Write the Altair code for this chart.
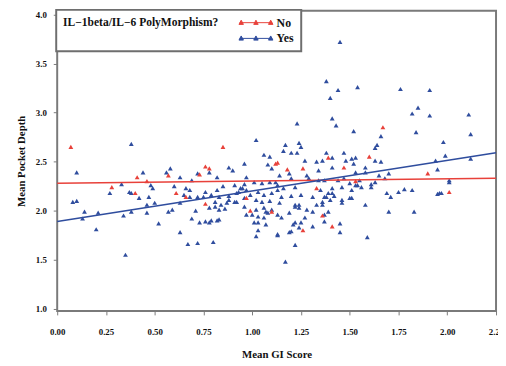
import altair as alt
import pandas as pd

# ---- data ----
no_x = [0.07, 0.28, 0.40, 0.41, 0.46, 0.57, 0.61, 0.66, 0.73, 0.76, 0.78, 0.76, 0.85, 0.97, 0.99,
        1.10, 1.12, 1.13, 1.18, 1.26, 1.26, 1.33, 1.36, 1.39, 1.41, 1.47, 1.53, 1.60, 1.67, 1.90, 2.01]
no_y = [2.65, 2.24, 2.18, 2.34, 2.30, 2.36, 2.18, 2.14, 2.37, 2.45, 2.43, 2.07, 2.65, 2.13, 2.00,
        1.99, 2.48, 2.49, 2.42, 2.43, 1.80, 2.23, 1.95, 2.54, 1.84, 2.44, 2.30, 2.55, 2.85, 2.38, 2.19]

yes_pts = [
    # upper scatter
    (1.45, 3.72), (1.38, 3.32), (1.44, 3.23), (1.54, 3.26), (1.40, 3.15), (1.76, 3.24), (1.91, 3.23),
    (1.85, 3.05), (1.82, 2.99), (1.91, 2.97), (2.11, 2.98), (2.12, 2.78), (1.98, 2.70), (1.99, 2.56),
    (1.94, 2.51), (2.12, 2.53), (1.95, 2.42), (1.96, 2.18), (1.95, 2.17), (2.01, 2.31),
    (1.23, 2.89), (1.41, 2.94), (1.43, 2.87), (1.52, 2.81), (1.66, 2.76), (1.84, 2.80), (1.64, 2.67),
    (1.63, 2.64), (1.02, 2.72), (1.17, 2.67), (1.24, 2.69), (1.25, 2.65), (1.47, 2.59), (1.20, 2.59),
    (1.23, 2.59), (1.16, 2.61), (1.06, 2.57), (1.09, 2.55), (0.38, 2.68),
    # 2.3 - 2.6
    (0.10, 2.39), (0.44, 2.39), (0.56, 2.39), (0.58, 2.43), (0.63, 2.34), (0.72, 2.38), (0.78, 2.39),
    (0.88, 2.44), (0.90, 2.41), (0.96, 2.48), (0.97, 2.34), (0.82, 2.34), (0.69, 2.31), (1.08, 2.47),
    (1.10, 2.43), (1.14, 2.36), (1.27, 2.51), (1.33, 2.50), (1.34, 2.41), (1.36, 2.51), (1.38, 2.59),
    (1.41, 2.54), (1.41, 2.44), (1.48, 2.51), (1.51, 2.53), (1.19, 2.38), (1.20, 2.33), (1.28, 2.36),
    (1.29, 2.33), (1.53, 2.54), (1.52, 2.48), (1.58, 2.44), (1.63, 2.51), (1.66, 2.50), (1.53, 2.39),
    (1.58, 2.39), (1.65, 2.36), (1.70, 2.38), (1.68, 2.33), (1.34, 2.31), (1.37, 2.31), (1.44, 2.31),
    (1.47, 2.33), (1.55, 2.31),
    # 2.1 - 2.3
    (0.27, 2.18), (0.33, 2.27), (0.38, 2.18), (0.47, 2.14), (0.48, 2.26), (0.49, 2.23), (0.60, 2.25),
    (0.66, 2.23), (0.68, 2.21), (0.65, 2.16), (0.68, 2.14), (0.72, 2.14), (0.75, 2.14), (0.83, 2.14),
    (0.85, 2.25), (0.88, 2.15), (0.88, 2.11), (0.91, 2.26), (0.96, 2.27), (1.01, 2.29), (1.05, 2.28),
    (1.09, 2.29), (1.12, 2.29), (0.76, 2.19), (0.79, 2.16), (0.82, 2.21), (0.93, 2.19), (0.94, 2.23),
    (0.97, 2.21), (0.99, 2.16), (1.03, 2.19), (1.06, 2.16), (1.10, 2.18), (1.13, 2.21), (0.91, 2.09),
    (0.92, 2.18), (0.95, 2.23), (0.42, 2.13), (0.37, 2.19), (1.13, 2.26), (1.16, 2.23), (1.22, 2.24),
    (1.35, 2.21), (1.41, 2.23), (1.46, 2.24), (1.50, 2.28), (1.15, 2.14), (1.20, 2.15), (1.25, 2.16),
    (1.31, 2.14), (1.39, 2.18), (1.38, 2.14), (1.42, 2.15), (1.46, 2.11), (1.37, 2.14), (1.40, 2.11),
    (1.41, 2.18), (1.50, 2.13), (1.54, 2.26), (1.61, 2.27), (1.63, 2.29), (1.53, 2.26), (1.56, 2.24),
    (1.51, 2.21), (1.51, 2.13), (1.61, 2.24), (1.69, 2.18), (1.71, 2.14), (1.75, 2.19), (1.78, 2.22),
    (1.82, 2.21), (1.97, 2.18), (2.01, 2.29), (0.08, 2.09), (0.10, 2.10),
    # 2.0 - 2.1
    (0.46, 2.06), (0.50, 2.08), (0.63, 2.08), (0.78, 2.03), (0.81, 2.04), (0.84, 2.06), (0.86, 2.02),
    (0.81, 2.09), (0.87, 2.08), (0.92, 2.09), (0.96, 2.13), (1.02, 2.11), (1.05, 2.09), (1.09, 2.10),
    (1.14, 2.08), (0.83, 2.01), (0.96, 2.04), (1.02, 2.01), (1.06, 2.03), (1.10, 2.01), (1.22, 2.04),
    (1.24, 2.06), (1.28, 2.01), (1.22, 2.06), (1.24, 2.03), (1.33, 2.06), (1.36, 2.09), (1.36, 2.06),
    (1.46, 2.08), (1.58, 2.06), (0.59, 2.01), (0.71, 2.00),
    # 1.9 - 2.0
    (0.14, 1.99), (0.21, 1.98), (0.38, 1.99), (0.46, 1.98), (0.57, 1.99), (0.34, 1.95), (0.97, 1.96),
    (1.03, 1.94), (1.08, 1.98), (1.13, 1.96), (1.06, 1.93), (1.07, 1.99), (1.00, 1.96), (1.19, 1.98),
    (1.31, 1.99), (1.37, 1.96), (1.39, 1.99), (1.15, 1.93), (1.27, 1.93), (1.70, 1.99), (1.83, 1.99),
    (0.13, 1.92), (0.69, 1.92),
    # below 1.9
    (0.20, 1.81), (0.35, 1.55), (0.52, 1.87), (0.63, 1.78), (0.67, 1.66), (0.72, 1.67), (0.73, 1.88),
    (0.76, 1.89), (0.79, 1.90), (0.82, 1.90), (0.80, 1.68), (0.78, 1.88), (0.83, 1.91), (1.01, 1.88),
    (1.07, 1.86), (1.03, 1.80), (1.13, 1.76), (1.02, 1.74), (1.13, 1.75), (1.19, 1.78), (1.22, 1.65),
    (1.17, 1.48), (1.24, 1.83), (1.25, 1.88), (1.22, 1.88), (1.03, 1.88), (1.37, 1.89), (1.45, 1.87),
    (1.45, 1.78), (1.59, 1.73), (1.21, 1.86), (1.31, 1.84), (1.20, 1.79),
]
yes_x = [p[0] for p in yes_pts]
yes_y = [p[1] for p in yes_pts]

fit_x = [0.0, 2.25]
no_fit = [2.28, 2.33]
yes_fit = [1.89, 2.59]

groups = ["No", "Yes"]
colors = ["#e8413a", "#2f4d9e"]
x_ticks = [0.0, 0.25, 0.5, 0.75, 1.0, 1.25, 1.5, 1.75, 2.0, 2.25]
y_ticks = [1.0, 1.5, 2.0, 2.5, 3.0, 3.5, 4.0]

pts = pd.DataFrame({
    "gi": yes_x + no_x,
    "pd": yes_y + no_y,
    "grp": ["Yes"] * len(yes_x) + ["No"] * len(no_x),
})
fits = pd.DataFrame({
    "gi": fit_x + fit_x,
    "pd": no_fit + yes_fit,
    "grp": ["No"] * 2 + ["Yes"] * 2,
})

FONT = "Liberation Serif"
xs = alt.Scale(domain=[0, 2.25], nice=False, zero=False)
ys = alt.Scale(domain=[0.977, 4.037], nice=False, zero=False)
cs = alt.Scale(domain=groups, range=colors)

legend_path = ("M-3.3,0L3.3,0"
               "M-3,-0.5L-2.55,0.35L-3.45,0.35Z"
               "M0,-0.5L0.45,0.35L-0.45,0.35Z"
               "M3,-0.5L3.45,0.35L2.55,0.35Z")

x_enc = alt.X("gi:Q", scale=xs, title="Mean GI Score",
              axis=alt.Axis(values=x_ticks, format=".2f", labelFlush=False,
                            labelPadding=13, titlePadding=12))
y_enc = alt.Y("pd:Q", scale=ys, title="Mean Pocket Depth",
              axis=alt.Axis(values=y_ticks, format=".1f", labelFlush=False,
                            labelPadding=7, titlePadding=9))

points = alt.Chart(pts).mark_point(shape="triangle-up", filled=True, size=24, opacity=1).encode(
    x=x_enc, y=y_enc,
    color=alt.Color("grp:N", scale=cs, legend=alt.Legend(
        title="IL\u22121beta/IL\u22126 PolyMorphism?",
        orient="none", legendX=-1, legendY=-1, direction="vertical",
        titleOrient="left", titleAnchor="start", titleBaseline="top",
        titlePadding=20, padding=7,
        symbolType=legend_path, symbolSize=100, symbolOffset=12, labelOffset=15,
        symbolStrokeWidth=1, rowPadding=4,
        strokeColor="#6e6e6e", fillColor="white",
    )),
)

lines = alt.Chart(fits).mark_line(strokeWidth=1.6).encode(
    x=alt.X("gi:Q", scale=xs), y=alt.Y("pd:Q", scale=ys),
    color=alt.Color("grp:N", scale=cs, legend=None),
    detail="grp:N",
)

chart = alt.layer(points, lines).properties(
    width=446, height=305,
    autosize=alt.AutoSizeParams(type="none"),
    padding={"left": 50, "top": 0, "right": 2, "bottom": 50},
).configure_view(
    stroke="#7a7a7a", strokeWidth=2,
).configure_axis(
    grid=False, domain=False,
    labelFont=FONT, labelFontWeight="bold", labelFontSize=9, labelColor="#111",
    titleFont=FONT, titleFontWeight="bold", titleFontSize=11, titleColor="#111",
    tickColor="#7a7a7a", tickSize=4, tickWidth=1,
).configure_legend(
    strokeWidth=2,
    titleFont=FONT, titleFontWeight="bold", titleFontSize=11.7, titleColor="#111",
    labelFont=FONT, labelFontWeight="bold", labelFontSize=12, labelColor="#111",
)

chart.save("out.html", embed_options={"renderer": "svg", "actions": False})
